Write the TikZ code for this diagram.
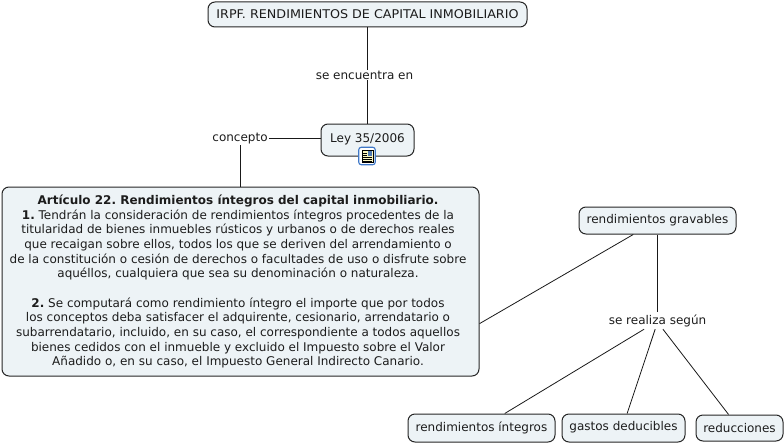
\documentclass[tikz,border=0pt]{standalone}
\usepackage{fontspec}
\setmainfont{DejaVu Sans}
\usetikzlibrary{positioning}
\definecolor{boxfill}{HTML}{EDF3F6}
\definecolor{inktext}{HTML}{1C1C1C}
\definecolor{iconblue}{HTML}{3F78C8}
\definecolor{iconpage}{HTML}{FBF6C0}
\newcommand{\mapfont}{\fontsize{12pt}{14.67pt}\selectfont\frenchspacing}
\tikzset{
    concept/.style={draw=black!85, fill=boxfill, rounded corners=7pt, line width=1pt, text=inktext, inner sep=0pt, font=\mapfont},
    linkword/.style={text=inktext, inner sep=1pt, font=\mapfont},
    link/.style={draw=black!90, line width=0.8pt}
}

\begin{document}
\begin{tikzpicture}[x=1pt, y=-1pt]

    \useasboundingbox (0,0) rectangle (784,444);

    % Nodes
    \node at (367.5,14.5) (irpf) [concept, minimum width=319pt, minimum height=25pt] {\addfontfeature{FakeStretch=1.06}IRPF. RENDIMIENTOS DE CAPITAL INMOBILIARIO};
    \node at (367.5,140) (ley) [concept, minimum width=93pt, minimum height=32pt, text depth=6pt, text height=11pt] {Ley 35/2006};
    \node at (240.5,281.5) (art) [concept, minimum width=477pt, minimum height=189pt] {%
        \begin{minipage}{472pt}\centering
        \textbf{Artículo 22. Rendimientos íntegros del capital inmobiliario.}\\
        \textbf{1.} Tendrán la consideración de rendimientos íntegros procedentes de la\\
        titularidad de bienes inmuebles rústicos y urbanos o de derechos reales\\
        que recaigan sobre ellos, todos los que se deriven del arrendamiento o\\
        de la constitución o cesión de derechos o facultades de uso o disfrute sobre\\
        aquéllos, cualquiera que sea su denominación o naturaleza.\\[14.67pt]
        \textbf{2.} Se computará como rendimiento íntegro el importe que por todos\\
        los conceptos deba satisfacer el adquirente, cesionario, arrendatario o\\
        subarrendatario, incluido, en su caso, el correspondiente a todos aquellos\\
        bienes cedidos con el inmueble y excluido el Impuesto sobre el Valor\\
        Añadido o, en su caso, el Impuesto General Indirecto Canario.
        \end{minipage}\hspace*{5pt}};
    \node at (657.5,220.5) (gravables) [concept, minimum width=157pt, minimum height=27pt] {rendimientos gravables};
    \node at (481.5,428) (integros) [concept, minimum width=147pt, minimum height=28pt] {rendimientos íntegros};
    \node at (623.5,428) (gastos) [concept, minimum width=123pt, minimum height=28pt, text depth=5pt, text height=10pt] {gastos deducibles};
    \node at (739.5,428) (reducciones) [concept, minimum width=87pt, minimum height=26pt] {reducciones};

    \node at (364.5,75) (encuentra) [linkword] {se encuentra en};
    \node at (240,138.5) (dfconcepto) [linkword] {concepto};
    \node at (657.5,320.5) (realiza) [linkword, minimum width=100pt, minimum height=17pt] {se realiza según};

    % Links
    \draw[link] (irpf.south -| ley.north) -- (encuentra.north -| ley.north);
    \draw[link] (encuentra.south -| ley.north) -- (ley.north);
    \draw[link] (ley.west |- dfconcepto.east) -- (dfconcepto.east);
    \draw[link] (dfconcepto.south) -- (dfconcepto.south |- art.north);
    \draw[link] (gravables.-150) -- (art.-10.8);
    \draw[link] (gravables.south) -- (realiza.north);
    \draw[link] (realiza.-147) -- (integros.32.5);
    \draw[link] (realiza.-105) -- (gastos.76);
    \draw[link] (realiza.-58) -- (reducciones.129);

    % Attached-resource icon
    \node at (367,156) (icon) [draw=iconblue, fill=white, rounded corners=2.5pt, line width=1.1pt, minimum width=16.5pt, minimum height=17.5pt, inner sep=0pt] {};
    \fill[iconpage, draw=black, line width=0.6pt] (362,150) rectangle (373,162.5);
    \fill[iconblue!70!gray] (368,150.8) rectangle (372.2,155.5);
    \foreach \rowy in {153,155,157,159,161} {
        \draw[black, line width=0.45pt] (363.2,\rowy) -- (\ifnum\rowy<156 367\else 371.8\fi,\rowy);
    }

\end{tikzpicture}
\end{document}
